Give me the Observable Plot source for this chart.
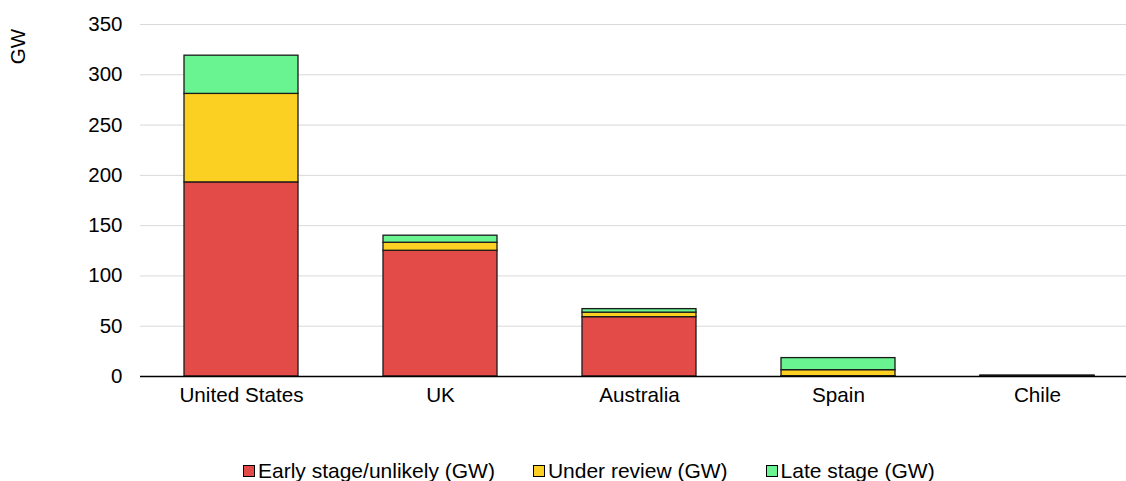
<!DOCTYPE html>
<html>
<head>
<meta charset="utf-8">
<script src="https://cdn.jsdelivr.net/npm/d3@7"></script>
<script src="https://cdn.jsdelivr.net/npm/@observablehq/plot@0.6"></script>
<style>
  html, body { margin: 0; padding: 0; background: #fff; overflow: hidden; width: 1126px; height: 481px; }
  #wrap { position: relative; width: 1126px; height: 481px; overflow: hidden; font-family: "Liberation Sans", Arial, sans-serif; }
  #chart { position: absolute; left: 0; top: 0; width: 1137px; }
  #chart svg { max-width: none; }
  #legend { position: absolute; left: 243px; top: 459px; display: flex; gap: 0; font-size: 21px; color: #000; white-space: nowrap; }
  .item { display: flex; align-items: center; margin-right: 38px; }
  .sw { width: 12px; height: 12px; border: 1px solid #000; margin-right: 3px; box-sizing: border-box; }
</style>
</head>
<body>
<div id="wrap">
  <div id="chart"></div>
  <div id="legend"></div>
</div>
<script>
const countries = ["United States", "UK", "Australia", "Spain", "Chile"];
const seriesNames = ["Early stage/unlikely (GW)", "Under review (GW)", "Late stage (GW)"];
const earlyStage = [193, 125, 59, 0.3, 0.4];
const underReview = [88, 8, 4.5, 6, 0.2];
const lateStage = [38, 7, 3.5, 12, 0.3];
const yTicks = [0, 50, 100, 150, 200, 250, 300, 350];
const colors = ["#e24b47", "#fcd023", "#69f391"];

const seriesValues = [earlyStage, underReview, lateStage];
const rows = [];
countries.forEach((c, i) => {
  seriesNames.forEach((s, j) => rows.push({country: c, series: s, value: seriesValues[j][i]}));
});

const plot = Plot.plot({
  width: 1137,
  height: 430,
  marginLeft: 140,
  marginRight: 0,
  marginTop: 24,
  marginBottom: 54,
  style: {fontFamily: "'Liberation Sans', Arial, sans-serif", fontSize: "20.5px", color: "#000", background: "#fff"},
  x: {domain: countries, paddingInner: 0.428, paddingOuter: 0.214, label: null},
  y: {domain: [0, 350], label: null},
  color: {domain: seriesNames, range: colors},
  marks: [
    Plot.ruleY(yTicks.filter(d => d > 0), {stroke: "#d9d9d9", strokeWidth: 1}),
    Plot.barY(rows, {x: "country", y: "value", fill: "series", stroke: "#1a1a1a", strokeWidth: 1.3}),
    Plot.ruleY([0], {stroke: "#000", strokeWidth: 1.5}),
    Plot.axisY({ticks: yTicks, tickSize: 0, tickPadding: 18, label: null, fontSize: "20.5px"}),
    Plot.axisX({tickSize: 0, tickPadding: 11, label: null, fontSize: "20.7px"}),
    Plot.text(["GW"], {frameAnchor: "top-left", dx: -130, dy: 22, rotate: -90, fontSize: "20.5px", text: d => d, textAnchor: "middle"})
  ]
});
document.getElementById("chart").appendChild(plot);

const legend = document.getElementById("legend");
seriesNames.forEach((s, i) => {
  const item = document.createElement("div");
  item.className = "item";
  const sw = document.createElement("span");
  sw.className = "sw";
  sw.style.background = colors[i];
  const t = document.createElement("span");
  t.textContent = s;
  item.appendChild(sw);
  item.appendChild(t);
  legend.appendChild(item);
});
</script>
</body>
</html>
